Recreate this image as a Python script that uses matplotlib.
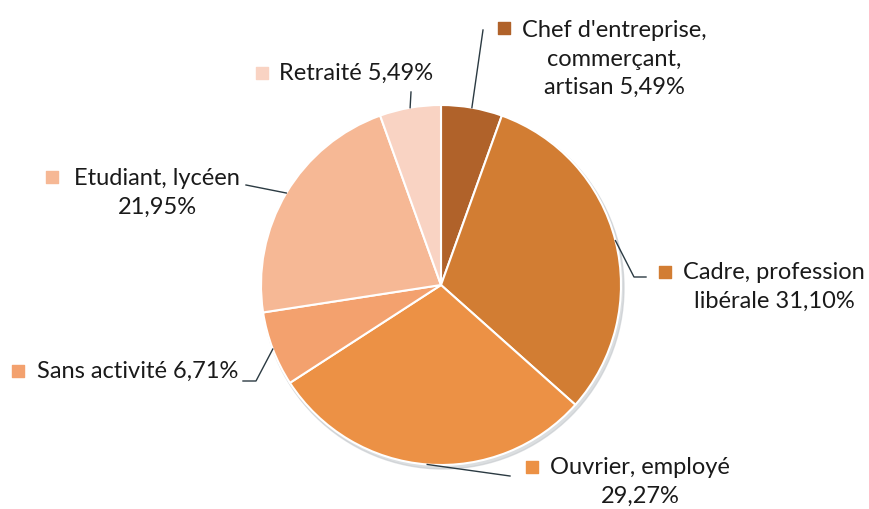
import numpy as np
import matplotlib.pyplot as plt
from matplotlib.patches import Circle

plt.rcParams['font.family'] = ['Lato', 'DejaVu Sans']

categories = ["Chef d'entreprise,\ncommerçant,\nartisan", "Cadre, profession\nlibérale",
              "Ouvrier, employé", "Sans activité", "Etudiant, lycéen", "Retraité"]
values = [5.49, 31.10, 29.27, 6.71, 21.95, 5.49]
colors = ['#B0622A', '#D27D33', '#EC9145', '#F3A16E', '#F6B895', '#F9D3C3']

W, H = 869, 509
fig = plt.figure(figsize=(W / 100, H / 100), dpi=100)
ax = fig.add_axes([0, 0, 1, 1])

cx, cy, r = 441, H - 285, 180

# ombre légère
ax.add_patch(Circle((cx + 2, cy - 3), r + 1, color='#C4C8CC', alpha=0.6, zorder=0))

wedges, _ = ax.pie(values, colors=colors, startangle=90, counterclock=False,
                   center=(cx, cy), radius=r, frame=True,
                   wedgeprops=dict(edgecolor='white', linewidth=1.5))
ax.set_xlim(0, W)
ax.set_ylim(0, H)
ax.set_aspect('equal')
ax.axis('off')

txt = '#1A1A1A'
fs = 17

def edge_point(w):
    a = np.deg2rad((w.theta1 + w.theta2) / 2)
    return cx + r * np.cos(a), cy + r * np.sin(a)

# (texte, position du carré, position du texte, alignement, trajet du trait)
labs = [
    ("Chef d'entreprise,\ncommerçant,\nartisan 5,49%", (504, 28), (614, 59), 'center', [(483, 30)]),
    ("Cadre, profession\nlibérale 31,10%", (665, 272), (774, 287), 'center', [(634, 277), (646, 277)]),
    ("Ouvrier, employé\n29,27%", (532, 467), (640, 482), 'center', [(510, 476)]),
    ("Sans activité 6,71%", (18, 371), (37, 371), 'left', [(256, 381), (243, 381)]),
    ("Etudiant, lycéen\n21,95%", (52, 177), (157, 193), 'center', [(246, 185)]),
    ("Retraité 5,49%", (262, 73), (279, 73), 'left', [(411, 92)]),
]

for i, (t, sq, pos, ha, path) in enumerate(labs):
    ax.scatter(sq[0], H - sq[1], marker='s', s=70, color=colors[i], zorder=5)
    ax.text(pos[0], H - pos[1], t, ha=ha, va='center', fontsize=fs, color=txt,
            linespacing=1.42, zorder=5)
    x0, y0 = edge_point(wedges[i])
    xs = [x0] + [p[0] for p in path]
    ys = [y0] + [H - p[1] for p in path]
    ax.plot(xs, ys, color='#2B3A42', lw=1, zorder=4)

fig.savefig('out.png', dpi=100, facecolor='white')
